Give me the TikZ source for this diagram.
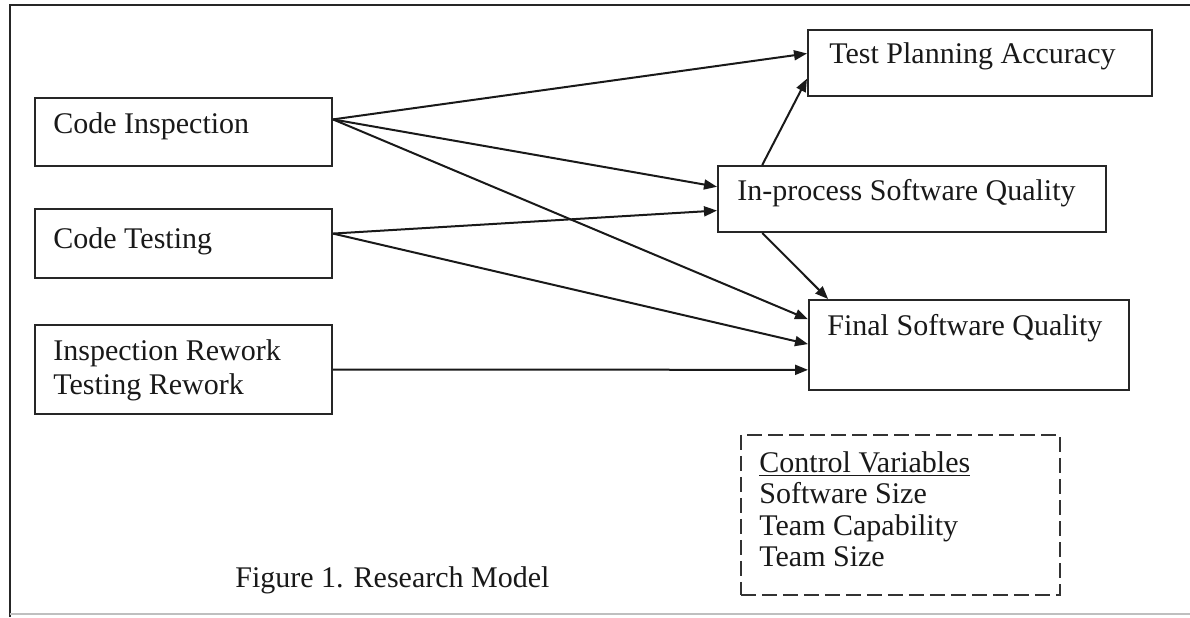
\documentclass[tikz,border=0pt]{standalone}
\usepackage{fontspec}
\setmainfont{Liberation Serif}
\usetikzlibrary{arrows.meta,calc}
\begin{document}
\begin{tikzpicture}[x=0.5pt,y=-0.5pt,
  box/.style={draw=black!85,line width=1pt,rectangle,inner sep=0pt,anchor=north west},
  lbl/.style={inner sep=0pt,anchor=base west,font=\fontsize{15}{17}\selectfont,text=black!90},
  arr/.style={draw=black!90,line width=1pt,-{Triangle[length=6.5pt,width=5pt]}},
  ctrl/.style={draw=black!80,line width=0.75pt,dash pattern=on 7.5pt off 3pt,rectangle,inner sep=0pt,anchor=north west}]
\useasboundingbox (0,0) rectangle (1190,617);
% outer frame
\draw[line width=1pt,black!85] (10,617) -- (10,5) -- (1190,5);
\draw[line width=0.8pt,black!25] (10,614) -- (1190,614);
% boxes
\node[box,minimum width=148.5pt,minimum height=34pt] (ci) at (34,97) {};
\node[box,minimum width=148.5pt,minimum height=34.5pt] (ct) at (34,208) {};
\node[box,minimum width=148.5pt,minimum height=44.5pt] (ir) at (34,324) {};
\node[box,minimum width=172pt,minimum height=33pt] (tpa) at (807,29) {};
\node[box,minimum width=194pt,minimum height=33pt] (ipq) at (717,165) {};
\node[box,minimum width=160pt,minimum height=45pt] (fsq) at (808,299) {};
\node[ctrl,minimum width=159.5pt,minimum height=80pt] (cv) at (740,434) {};
% labels
\node[lbl] (tci) at (53,133) {Code Inspection};
\node[lbl] (tct) at (53,248) {Code Testing};
\node[lbl] (tir1) at (53,360) {Inspection Rework};
\node[lbl] (tir2) at (53,394) {Testing Rework};
\node[lbl] (ttpa) at (829,63) {Test Planning Accuracy};
\node[lbl] (tipq) at (737,200) {In-process Software Quality};
\node[lbl] (tfsq) at (827,335) {Final Software Quality};
\node[lbl] (tcv1) at (759,472) {\underline{Control Variables}};
\node[lbl] (tcv2) at (759,503) {Software Size};
\node[lbl] (tcv3) at (759,535) {Team Capability};
\node[lbl] (tcv4) at (759,566) {Team Size};
\node[lbl] (cap) at (235,587) {Figure 1. Research Model};
% connection points
\coordinate (ciO) at ($(ci.north east)!0.32!(ci.south east)$);
\coordinate (ctO) at ($(ct.north east)!0.36!(ct.south east)$);
\coordinate (tpaA) at ($(tpa.north west)!0.36!(tpa.south west)$);
\coordinate (tpaB) at ($(tpa.north west)!0.73!(tpa.south west)$);
\coordinate (ipqA) at ($(ipq.north west)!0.32!(ipq.south west)$);
\coordinate (ipqB) at ($(ipq.north west)!0.67!(ipq.south west)$);
\coordinate (ipqT) at ($(ipq.north west)!0.116!(ipq.north east)$);
\coordinate (ipqD) at ($(ipq.south west)!0.116!(ipq.south east)$);
\coordinate (fsqA) at ($(fsq.north west)!0.22!(fsq.south west)$);
\coordinate (fsqB) at ($(fsq.north west)!0.49!(fsq.south west)$);
\coordinate (fsqC) at ($(fsq.north west)!0.77!(fsq.south west)$);
\coordinate (fsqT) at ($(fsq.north west)!0.0625!(fsq.north east)$);
% connectors
\draw[arr] (ciO) -- (tpaA);
\draw[arr] (ciO) -- (ipqA);
\draw[arr] (ciO) -- (fsqA);
\draw[arr] (ctO) -- (ipqB);
\draw[arr] (ctO) -- (fsqB);
\draw[arr] (ir.east) -- (fsqC);
\draw[arr] (ipqT) -- (tpaB);
\draw[arr] (ipqD) -- (fsqT);
\end{tikzpicture}
\end{document}
